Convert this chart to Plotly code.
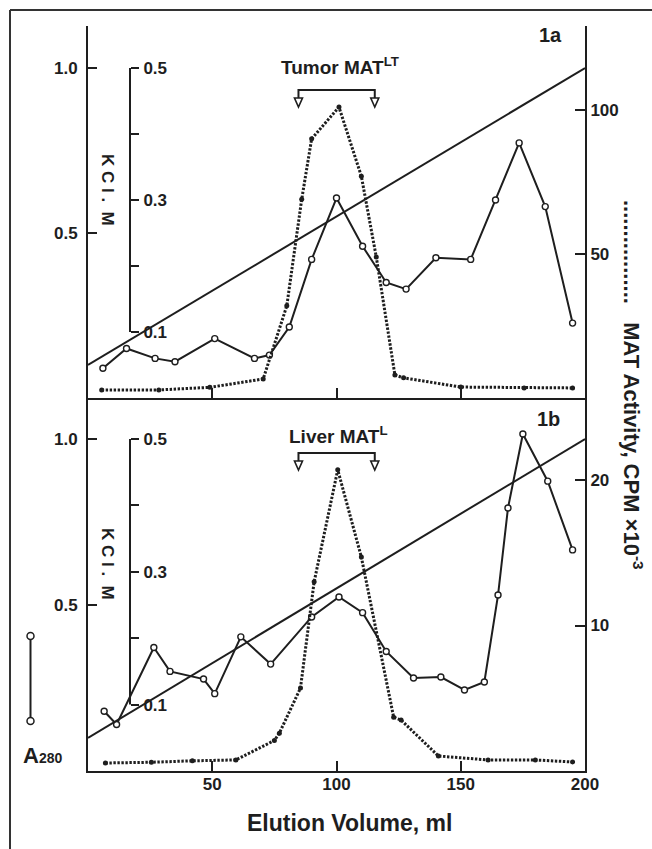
import plotly.graph_objects as go

# ---------------- data ----------------
# Panel 1a (Tumor MAT^LT)
top_a280_ml = [6, 15.5, 27, 35, 51, 67, 73, 81, 90, 100, 110.5, 120, 128, 140, 154, 164, 173.5, 184, 195]
top_a280 = [0.09, 0.15, 0.12, 0.11, 0.18, 0.12, 0.13, 0.215, 0.42, 0.606, 0.46, 0.35, 0.33, 0.425, 0.42, 0.60, 0.773, 0.58, 0.227]
top_mat_ml = [5.5, 28.5, 49, 70.5, 80, 86, 90, 101, 110, 116, 123.5, 127, 150, 175.5, 195]
top_mat = [2.8, 2.8, 3.7, 6.6, 32, 69, 90, 101, 77, 49, 8, 7, 3.8, 3.5, 3.5]

# Panel 1b (Liver MAT^L)
bot_a280_ml = [6.5, 11.5, 26.5, 33, 46.5, 51, 61.5, 73.5, 90, 101, 110.5, 120, 131, 142, 151.5, 159.5, 165, 169, 175, 185, 195]
bot_a280 = [0.18, 0.14, 0.372, 0.30, 0.277, 0.233, 0.404, 0.322, 0.464, 0.524, 0.477, 0.36, 0.28, 0.283, 0.244, 0.268, 0.53, 0.792, 1.015, 0.873, 0.666]
bot_mat_ml = [7, 25.5, 42, 59.5, 75, 77, 85.5, 91, 100.5, 110, 123, 126, 141, 161, 180, 195]
bot_mat = [0.55, 0.6, 0.7, 0.76, 2.1, 2.6, 5.7, 13, 20.7, 14.7, 3.7, 3.5, 1.03, 0.76, 0.76, 0.62]

# KCl linear gradient (both panels)
kcl_ml = [0, 200]
kcl_m = [0.05, 0.5]

# pooled fractions bracket
pool_ml = [84.7, 115.4]

x_ticks = [50, 100, 150, 200]
a280_ticks = [0.5, 1.0]
a280_ticktext = ["0.5", "1.0"]
kcl_ticks = [0.1, 0.3, 0.5]
kcl_minor = [0.2, 0.4]
mat_top_ticks = [50, 100]
mat_bot_ticks = [10, 20]

# ---------------- layout helpers ----------------
W, H = 652, 849
INK = "#1e1e1e"
FONT = "Liberation Sans, Arial, sans-serif"


def px(x):
    return x / W


def py(y):
    return 1 - y / H


XDOM = [px(88), px(585)]
TOP_DOM = [py(398), py(26)]
BOT_DOM = [py(771), py(398)]

fig = go.Figure()

a280_line = dict(color=INK, width=2)
a280_marker = dict(symbol="circle", size=6, color="white", line=dict(color=INK, width=1.4))
mat_line = dict(color=INK, width=3, dash="2.4px,1.6px")
mat_marker = dict(symbol="circle", size=5, color=INK)

# top panel
fig.add_trace(go.Scatter(x=kcl_ml, y=kcl_m, mode="lines", line=dict(color=INK, width=2), xaxis="x", yaxis="y3"))
fig.add_trace(go.Scatter(x=top_mat_ml, y=top_mat, mode="lines+markers", line=mat_line, marker=mat_marker, xaxis="x", yaxis="y2"))
fig.add_trace(go.Scatter(x=top_a280_ml, y=top_a280, mode="lines+markers", line=a280_line, marker=a280_marker, xaxis="x", yaxis="y"))
# bottom panel
fig.add_trace(go.Scatter(x=kcl_ml, y=kcl_m, mode="lines", line=dict(color=INK, width=2), xaxis="x2", yaxis="y6"))
fig.add_trace(go.Scatter(x=bot_mat_ml, y=bot_mat, mode="lines+markers", line=mat_line, marker=mat_marker, xaxis="x2", yaxis="y5"))
fig.add_trace(go.Scatter(x=bot_a280_ml, y=bot_a280, mode="lines+markers", line=a280_line, marker=a280_marker, xaxis="x2", yaxis="y4"))

tickfont = dict(family=FONT, size=17, color=INK, weight="bold")

common_axis = dict(showgrid=False, zeroline=False, linecolor=INK, linewidth=2, automargin=False,
                   tickcolor=INK, tickwidth=2, tickfont=tickfont, fixedrange=True)

kcl_minor_def = dict(tickvals=kcl_minor, ticks="outside", ticklen=8, tickwidth=2, tickcolor=INK, showgrid=False)

fig.update_layout(
    width=W, height=H, autosize=False,
    margin=dict(l=0, r=0, t=0, b=0, pad=0, autoexpand=False),
    paper_bgcolor="white", plot_bgcolor="rgba(0,0,0,0)",
    showlegend=False,
    xaxis=dict(domain=XDOM, anchor="y", range=[0, 200], showline=True, ticks="inside", ticklen=10,
               tickvals=[50, 100, 150], showticklabels=False, **common_axis),
    yaxis=dict(domain=TOP_DOM, anchor="x", range=[0, 372 / 330], showline=True, ticks="inside", ticklen=9,
               tickvals=a280_ticks, ticktext=a280_ticktext, ticklabelstandoff=5, **common_axis),
    yaxis2=dict(overlaying="y", anchor="x", side="right", range=[0, 372 / 2.88], showline=True, ticks="inside",
                ticklen=10, tickvals=mat_top_ticks, ticklabelstandoff=0, **common_axis),
    yaxis3=dict(overlaying="y", anchor="free", position=px(130), side="right", range=[0, 372 / 330 / 2],
                showline=False, ticks="outside", ticklen=8, tickvals=kcl_ticks, minor=kcl_minor_def,
                ticklabelstandoff=1, **common_axis),
    xaxis2=dict(domain=XDOM, anchor="y4", range=[0, 200], showline=True, ticks="inside", ticklen=10,
                tickvals=x_ticks, ticklabelstandoff=-3, **common_axis),
    yaxis4=dict(domain=BOT_DOM, anchor="x2", range=[0, 373 / 332], showline=True, ticks="inside", ticklen=9,
                tickvals=a280_ticks, ticktext=a280_ticktext, ticklabelstandoff=5, **common_axis),
    yaxis5=dict(overlaying="y4", anchor="x2", side="right", range=[0, 373 / 14.55], showline=True,
                ticks="inside", ticklen=10, tickvals=mat_bot_ticks, ticklabelstandoff=0, **common_axis),
    yaxis6=dict(overlaying="y4", anchor="free", position=px(130), side="right", range=[0, 373 / 332 / 2],
                showline=False, ticks="outside", ticklen=8, tickvals=kcl_ticks, minor=kcl_minor_def,
                ticklabelstandoff=1, **common_axis),
)

shapes = []
# KCl axis spines
for yref in ("y3", "y6"):
    shapes.append(dict(type="line", xref="paper", yref=yref, x0=px(130), x1=px(130), y0=0.1, y1=0.5,
                       line=dict(color=INK, width=2)))

# outer frame (left and top)
shapes.append(dict(type="line", xref="paper", yref="paper", x0=px(10), x1=px(10), y0=py(10), y1=0,
                   line=dict(color="#333", width=2)))
shapes.append(dict(type="line", xref="paper", yref="paper", x0=px(10), x1=1, y0=py(10), y1=py(10),
                   line=dict(color="#333", width=2)))


# pooled-fraction brackets
def bracket(xref, ytop):
    out = []
    x0, x1 = pool_ml
    out.append(dict(type="path", xref=xref, yref="paper",
                    path=f"M {x0},{py(ytop + 8)} L {x0},{py(ytop)} L {x1},{py(ytop)} L {x1},{py(ytop + 8)}",
                    line=dict(color=INK, width=2)))
    for xv in pool_ml:
        dx = 4 / 2.485
        out.append(dict(type="path", xref=xref, yref="paper",
                        path=f"M {xv - dx},{py(ytop + 8)} L {xv + dx},{py(ytop + 8)} L {xv},{py(ytop + 17)} Z",
                        fillcolor="white", line=dict(color=INK, width=1.6)))
    return out


shapes += bracket("x", 90)
shapes += bracket("x2", 453)

# A280 legend key
shapes.append(dict(type="line", xref="paper", yref="paper", x0=px(30.5), x1=px(30.5), y0=py(636), y1=py(721),
                   line=dict(color=INK, width=2)))
for yc in (636, 721):
    shapes.append(dict(type="circle", xref="paper", yref="paper", x0=px(27), x1=px(34), y0=py(yc + 3.5),
                       y1=py(yc - 3.5), fillcolor="white", line=dict(color=INK, width=1.5)))

fig.update_layout(shapes=shapes)

bold = dict(family=FONT, color=INK, weight="bold")


def label(x, y, text, size, angle=0, xanchor="center"):
    return dict(x=px(x), y=py(y), xref="paper", yref="paper", showarrow=False, textangle=angle,
                xanchor=xanchor, yanchor="middle", text=text, font=dict(size=size, **bold))


ann = [
    label(340, 66, "Tumor MAT<sup>LT</sup>", 19),
    label(338, 435, "Liver MAT<sup>L</sup>", 19),
    label(550, 35, "1a", 20),
    label(548, 419, "1b", 20),
    label(108, 190, "K\u00a0C\u00a0l\u00a0.\u00a0\u00a0M", 17, angle=90),
    label(108, 564, "K\u00a0C\u00a0l\u00a0.\u00a0\u00a0M", 17, angle=90),
    label(633, 385, "." * 17 + "\u00a0\u00a0\u00a0MAT Activity, CPM \u00d710<sup>-3</sup>", 22, angle=90),
    label(349, 823, "Elution Volume, ml", 23),
    label(21, 755, "A<span style='font-size:14px'>280</span>", 22, xanchor="left"),
]
fig.update_layout(annotations=ann)

fig.write_html("out.html", config={"staticPlot": True, "responsive": False},
               post_script="document.body.style.margin='0';")
